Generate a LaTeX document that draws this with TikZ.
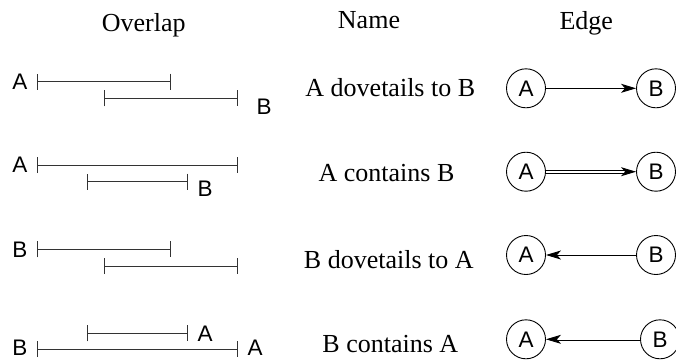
\documentclass[tikz,border=0pt]{standalone}
\usepackage{fontspec}
\setmainfont{Liberation Serif}
\setsansfont{Liberation Sans}
\usetikzlibrary{arrows.meta}
\begin{document}
\begin{tikzpicture}[x=1pt,y=-1pt,
  head/.style={font=\fontsize{26}{26}\selectfont, anchor=base, inner sep=0},
  lbl/.style={font=\sffamily\fontsize{22.5}{22.5}\selectfont, inner sep=0},
  vtx/.style={draw, circle, line width=0.9pt, minimum size=39pt, inner sep=0,
    font=\sffamily\fontsize{22.5}{22.5}\selectfont},
  bar/.style={draw, line width=1pt, black!80, {Bar[width=16pt]}-{Bar[width=16pt]}},
  edg/.style={draw, line width=0.9pt, -{Stealth[length=15pt,width=9pt,inset=4pt]}},
  dbl/.style={edg, double, double distance=1.8pt}]
\useasboundingbox (0,0) rectangle (676,360);

\node[head] (hov) at (143.7,31.7) {Overlap};
\node[head] (hnm) at (369,28.3) {Name};
\node[head] (hed) at (586.3,29.3) {Edge};

\path[bar] (37,81.7) -- (171,81.7);
\path[bar] (104,98.3) -- (238,98.3);
\node[lbl] (la1) at (20,82) {A};
\node[lbl] (lb1) at (264,107) {B};

\path[bar] (37,165) -- (238,165);
\path[bar] (87,181.7) -- (188,181.7);
\node[lbl] (la2) at (20,165) {A};
\node[lbl] (lb2) at (205,188.7) {B};

\path[bar] (37,249.3) -- (171,249.3);
\path[bar] (104,266) -- (238,266);
\node[lbl] (lb3) at (20,249.3) {B};

\path[bar] (87,333.3) -- (188,333.3);
\path[bar] (37,349) -- (238,349);
\node[lbl] (la4) at (205,333.5) {A};
\node[lbl] (lb4) at (20,347.5) {B};
\node[lbl] (la5) at (255,347.5) {A};

\node[head] (n1) at (390.3,96.7) {A dovetails to B};
\node[head] (n2) at (386.5,181.7) {A contains B};
\node[head] (n3) at (388.8,268.3) {B dovetails to A};
\node[head] (n4) at (390.3,352.3) {B contains A};

\node[vtx] (a1) at (526,88.3) {A};
\node[vtx] (b1) at (656,88.3) {B};
\node[vtx] (a2) at (526,171.7) {A};
\node[vtx] (b2) at (656,171.7) {B};
\node[vtx] (a3) at (526,255) {A};
\node[vtx] (b3) at (656,255) {B};
\node[vtx] (a4) at (526,339.3) {A};
\node[vtx] (b4) at (660,339.3) {B};

\path[edg] (a1) -- (b1);
\path[dbl] (a2) -- (b2);
\path[edg] (b3) -- (a3);
\path[dbl] (b4) -- (a4);
\end{tikzpicture}
\end{document}
